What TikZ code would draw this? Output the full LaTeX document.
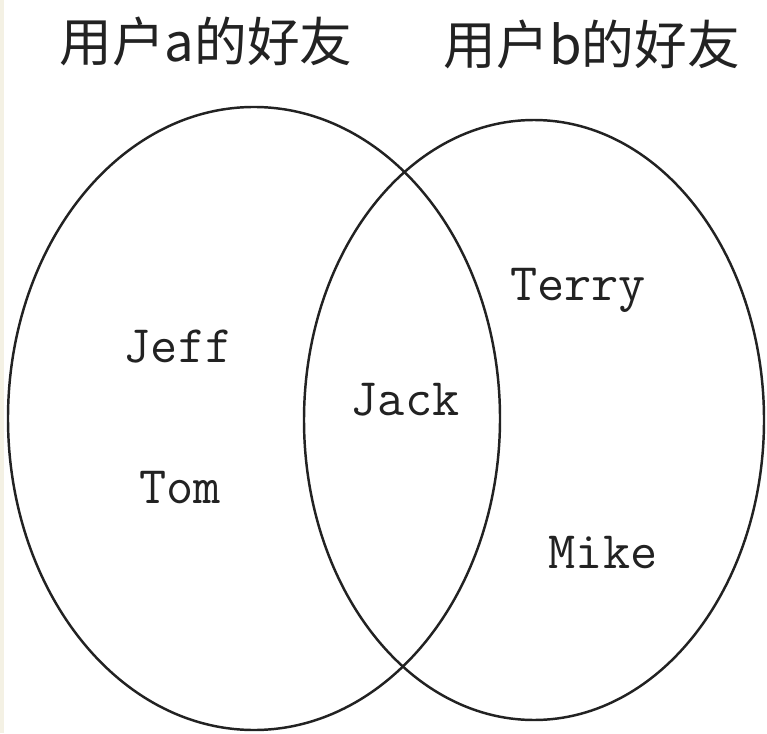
\documentclass[tikz,border=0pt]{standalone}
\usepackage{fontspec}
\newfontfamily\cjk{Noto Sans CJK SC}
\definecolor{paper}{HTML}{F4F1E4}
\definecolor{ink}{HTML}{222222}
\tikzset{
	friend/.style={anchor=base, inner sep=0pt, text=ink, font=\ttfamily\fontsize{30}{36}\selectfont},
	setname/.style={inner sep=0pt, text=ink, font=\cjk\fontsize{30}{36}\selectfont},
	setline/.style={draw=ink, line width=1.4pt}
}

\begin{document}
\begin{tikzpicture}
	% frame: 767 x 733 px, 50 px per cm
	\useasboundingbox (0, 0) rectangle (15.34, 14.66);
	\fill[white] (0, 0) rectangle (15.34, 14.66);
	\fill[paper] (0, 0) rectangle (0.09, 14.66);
	
	% the two sets
	\draw[setline] (5.08, 6.29) ellipse (4.92 and 6.23);
	\draw[setline] (10.68, 6.26) ellipse (4.6 and 6.0);
	
	% titles
	\node[setname] (titleA) at (4.12, 13.84) {用户a的好友};
	\node[setname] (titleB) at (11.84, 13.78) {用户b的好友};
	
	% members
	\node[friend] (jeff) at (3.56, 7.42) {Jeff};
	\node[friend] (tom) at (3.60, 4.60) {Tom};
	\node[friend] (jack) at (8.10, 6.36) {Jack};
	\node[friend] (terry) at (11.56, 8.66) {Terry};
	\node[friend] (mike) at (12.06, 3.30) {Mike};
\end{tikzpicture}
\end{document}
